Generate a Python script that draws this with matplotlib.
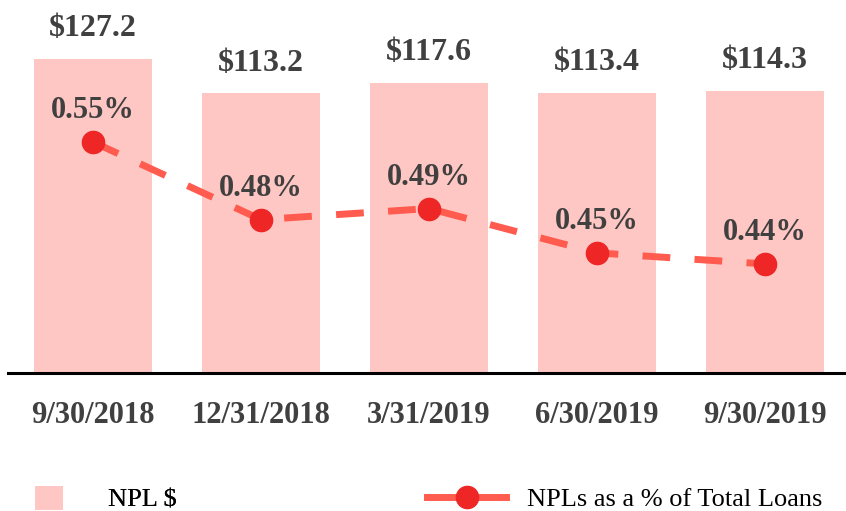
import matplotlib
matplotlib.use("Agg")
import matplotlib.pyplot as plt
from matplotlib.patches import Patch
from matplotlib.lines import Line2D

categories = ["9/30/2018", "12/31/2018", "3/31/2019", "6/30/2019", "9/30/2019"]
npl_dollars = [127.2, 113.2, 117.6, 113.4, 114.3]
npl_pct = [0.55, 0.48, 0.49, 0.45, 0.44]

plt.rcParams['font.family'] = ['Liberation Serif', 'DejaVu Serif']

bar_color = "#FFC7C3"
line_color = "#FF5B4F"
marker_color = "#EE2626"
text_color = "#404040"

fig = plt.figure(figsize=(8.46, 5.11), dpi=100)
W, H = 846, 511
ax = fig.add_axes([8 / W, 1 - 373 / H, (846 - 8) / W, 373 / H])
x = list(range(len(categories)))
ax.bar(x, npl_dollars, width=0.70, color=bar_color, zorder=1)
ax.set_xlim(-0.505, 4.48)
ax.set_ylim(0, 151)
for xi, v in zip(x, npl_dollars):
    ax.annotate(f"${v:.1f}", (xi, v), xytext=(0, 30), textcoords="offset pixels",
                ha="center", va="center", fontsize=23, fontweight="bold", color=text_color)

for s in ["top", "right", "left"]:
    ax.spines[s].set_visible(False)
ax.spines["bottom"].set_linewidth(2.2)
ax.spines["bottom"].set_color("black")
ax.set_yticks([])
ax.set_xticks(x)
ax.set_xticklabels(categories, fontsize=22, fontweight="bold", color=text_color)
ax.tick_params(axis="x", length=0, pad=20)

ax2 = ax.twinx()
ax2.set_ylim(0.3417, 0.678)
ax2.plot(x, npl_pct, color=line_color, lw=5, dashes=(4, 3.5), zorder=3)
ax2.plot(x, npl_pct, ls="none", marker="o", ms=16, color=marker_color, zorder=4)
for xi, v in zip(x, npl_pct):
    ax2.annotate(f"{v:.2f}%", (xi, v), xytext=(0, 31), textcoords="offset pixels",
                 ha="center", va="center", fontsize=22, fontweight="bold", color=text_color)
ax2.axis("off")

handles = [Patch(facecolor=bar_color, edgecolor="none"),
           Line2D([0], [0], color=line_color, lw=5, marker="o", ms=16,
                  markerfacecolor=marker_color, markeredgecolor=marker_color)]
leg1 = fig.legend([handles[0]], ["NPL $"], loc="center left", bbox_to_anchor=(35 / W, 1 - 499 / H),
                  frameon=False, fontsize=19, handlelength=1.06, handleheight=1.0,
                  handletextpad=1.7, borderpad=0, borderaxespad=0)
leg2 = fig.legend([handles[1]], ["NPLs as a % of Total Loans"], loc="center left",
                  bbox_to_anchor=(427 / W, 1 - 499 / H),
                  frameon=False, fontsize=19, handlelength=3.0, handletextpad=0.8,
                  borderpad=0, borderaxespad=0)
fig.add_artist(leg1)

fig.savefig("out.png", dpi=100)
